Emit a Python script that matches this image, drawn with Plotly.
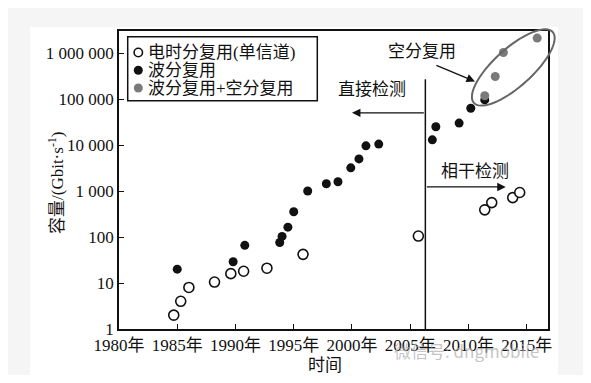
import math
import plotly.graph_objects as go

# ---------------- data ----------------
tdm_years = [1984.7, 1985.3, 1986.0, 1988.2, 1989.6, 1990.7, 1992.7, 1995.8, 2005.7, 2011.4, 2012.0, 2013.8, 2014.4]
tdm_cap = [2, 4, 8, 10.5, 16, 18, 21, 42, 105, 390, 560, 720, 930]

wdm_years = [1985.0, 1989.8, 1990.8, 1993.8, 1994.0, 1994.5, 1995.0, 1996.2, 1997.8, 1998.8,
             1999.9, 2000.6, 2001.2, 2002.3, 2006.9, 2007.2, 2009.2, 2010.2, 2011.4]
wdm_cap = [20, 29, 66, 76, 103, 164, 355, 1000, 1440, 1590,
           3200, 5000, 9600, 10500, 13000, 25000, 30000, 63000, 96000]

sdm_years = [2011.4, 2012.3, 2013.0, 2015.9]
sdm_cap = [118000, 310000, 1030000, 2120000]

series_names = ["电时分复用(单信道)", "波分复用", "波分复用+空分复用"]

x_tick_vals = [1980, 1985, 1990, 1995, 2000, 2005, 2010, 2015]
x_tick_text = ["1980年", "1985年", "1990年", "1995年", "2000年", "2005年", "2010年", "2015年"]
y_tick_vals = [1, 10, 100, 1000, 10000, 100000, 1000000]
y_tick_text = ["1", "10", "100", "1 000", "10 000", "100 000", "1 000 000"]

boundary_year = 2006.3   # direct detection / coherent detection split

# ---------------- layout geometry ----------------
# the page body has an 8px margin, so the figure is laid out 8px in from the window corner
OFF = 8
W, H = 575, 367
PL, PT = 119, 31          # plot-area top-left in window pixels
PW, PH = 429, 298
ML, MT = PL - OFF, PT - OFF
MR, MB = W - ML - PW, H - MT - PH
X_RANGE = [1980, 2016.83]
Y_RANGE = [0, 6.48]

FONT = "Liberation Serif, 'Noto Sans CJK SC', serif"
FS = 17
BLACK = "#111111"
GRAY = "#7a7a7a"

styles = [
    dict(symbol="circle", size=10, color="white", line=dict(color=BLACK, width=1.6)),
    dict(symbol="circle", size=9, color=BLACK, line=dict(width=0)),
    dict(symbol="circle", size=9, color=GRAY, line=dict(width=0)),
]

fig = go.Figure()
for xs, ys, name, st in zip([tdm_years, wdm_years, sdm_years], [tdm_cap, wdm_cap, sdm_cap],
                            series_names, styles):
    fig.add_trace(go.Scatter(x=xs, y=ys, mode="markers", name=name, marker=st, showlegend=False))


def px2paper(x, y):
    return (x - PL) / PW, (PT + PH - y) / PH


def to_paper(year, logv):
    px = (year - X_RANGE[0]) / (X_RANGE[1] - X_RANGE[0])
    py = (logv - Y_RANGE[0]) / (Y_RANGE[1] - Y_RANGE[0])
    return px, py


# ellipse around SDM points (pixel semi-axes, rotated)
cx, cy = to_paper(2013.85, 5.687)
a_px, b_px, th = 53.0, 19.0, math.radians(42)
pts = []
for i in range(73):
    t = 2 * math.pi * i / 72
    dx = a_px * math.cos(t) * math.cos(th) - b_px * math.sin(t) * math.sin(th)
    dy = a_px * math.cos(t) * math.sin(th) + b_px * math.sin(t) * math.cos(th)
    pts.append((cx + dx / PW, cy + dy / PH))
path = "M " + " L ".join(f"{p[0]:.5f},{p[1]:.5f}" for p in pts) + " Z"

card0 = px2paper(30, 375)
card1 = px2paper(558, 27)
leg0 = px2paper(127.7, 100.7)
leg1 = px2paper(317.3, 36.7)

shapes = [
    # white card behind the chart
    dict(type="rect", xref="paper", yref="paper", x0=card0[0], x1=card1[0], y0=card0[1], y1=card1[1],
         fillcolor="white", line=dict(width=0), layer="below"),
    # vertical divider
    dict(type="line", xref="x", yref="paper", x0=boundary_year, x1=boundary_year, y0=0, y1=0.838,
         line=dict(color=BLACK, width=1.5)),
    # ellipse
    dict(type="path", xref="paper", yref="paper", path=path, line=dict(color="#666666", width=2)),
    # legend box
    dict(type="rect", xref="paper", yref="paper", x0=leg0[0], x1=leg1[0], y0=leg0[1], y1=leg1[1],
         fillcolor="white", line=dict(color=BLACK, width=1.5)),
]

annotations = []
# legend entries
leg_rows = [52.5, 70.2, 88.0]
for name, st, ry in zip(series_names, styles, leg_rows):
    sx, sy = px2paper(138.3, ry)
    r = st["size"] / 2
    lw = st["line"].get("width", 0)
    shapes.append(dict(type="circle", xref="paper", yref="paper", xsizemode="pixel", ysizemode="pixel",
                       xanchor=sx, yanchor=sy, x0=-r + lw / 2, x1=r - lw / 2, y0=-r + lw / 2, y1=r - lw / 2,
                       fillcolor=st["color"],
                       line=dict(color=st["line"].get("color", st["color"]), width=lw if lw else 0)))
    tx, ty = px2paper(146, ry)
    annotations.append(dict(x=tx, y=ty, xref="paper", yref="paper", xanchor="left", yanchor="middle",
                            text=name, showarrow=False, font=dict(size=FS, color=BLACK, family=FONT)))

annotations += [
    # arrows
    dict(x=2000.0, y=4.70, ax=boundary_year, ay=4.70, xref="x", yref="y", axref="x", ayref="y",
         text="", showarrow=True, arrowhead=2, arrowsize=1.3, arrowwidth=1.3, arrowcolor=BLACK),
    dict(x=2013.2, y=3.09, ax=boundary_year, ay=3.09, xref="x", yref="y", axref="x", ayref="y",
         text="", showarrow=True, arrowhead=2, arrowsize=1.3, arrowwidth=1.3, arrowcolor=BLACK),
    dict(x=2010.56, y=5.383, ax=2007.12, ay=5.746, xref="x", yref="y", axref="x", ayref="y",
         text="", showarrow=True, arrowhead=2, arrowsize=1.3, arrowwidth=1.3, arrowcolor=BLACK),
    # labels
    dict(x=2001.69, y=5.217, xref="x", yref="y", text="直接检测", showarrow=False,
         font=dict(size=FS, color=BLACK, family=FONT)),
    dict(x=2010.56, y=3.426, xref="x", yref="y", text="相干检测", showarrow=False,
         font=dict(size=FS, color=BLACK, family=FONT)),
    dict(x=2005.98, y=6.035, xref="x", yref="y", text="空分复用", showarrow=False,
         font=dict(size=FS, color=BLACK, family=FONT)),
    # axis titles
    dict(x=px2paper(325, 0)[0], y=px2paper(0, 365)[1], xref="paper", yref="paper", text="时间",
         showarrow=False, font=dict(size=FS, color=BLACK, family=FONT), yanchor="middle"),
    dict(x=px2paper(43, 0)[0], y=px2paper(0, 183)[1], xref="paper", yref="paper",
         text="容量/(Gbit·s<sup>-1</sup>)",
         showarrow=False, textangle=-90, font=dict(size=FS, color=BLACK, family=FONT)),
    # watermark
    dict(x=px2paper(392, 0)[0], y=px2paper(0, 350)[1], xref="paper", yref="paper", xanchor="left",
         yanchor="middle", text="微信号: dngmobile", showarrow=False,
         font=dict(size=FS, color="rgba(170,170,170,0.7)", family="'Noto Sans CJK SC', sans-serif")),
]

fig.update_layout(
    width=W, height=H,
    margin=dict(l=ML, r=MR, t=MT, b=MB, autoexpand=False),
    paper_bgcolor="#f5f5f5",
    plot_bgcolor="white",
    font=dict(family=FONT, size=FS, color=BLACK),
    shapes=shapes,
    annotations=annotations,
    showlegend=False,
    xaxis=dict(range=X_RANGE, tickvals=x_tick_vals, ticktext=x_tick_text, automargin=False,
               showgrid=False, zeroline=False, showline=True, linecolor=BLACK, linewidth=1.5,
               mirror=True, ticks="inside", ticklen=5, tickwidth=1.3, tickcolor=BLACK,
               tickfont=dict(size=FS, family=FONT, color=BLACK)),
    yaxis=dict(type="log", range=Y_RANGE, tickvals=y_tick_vals, ticktext=y_tick_text, automargin=False,
               showgrid=False, zeroline=False, showline=True, linecolor=BLACK, linewidth=1.5,
               mirror=True, ticks="inside", ticklen=5, tickwidth=1.3, tickcolor=BLACK,
               tickfont=dict(size=FS, family=FONT, color=BLACK)),
)

fig.write_html("out.html")
